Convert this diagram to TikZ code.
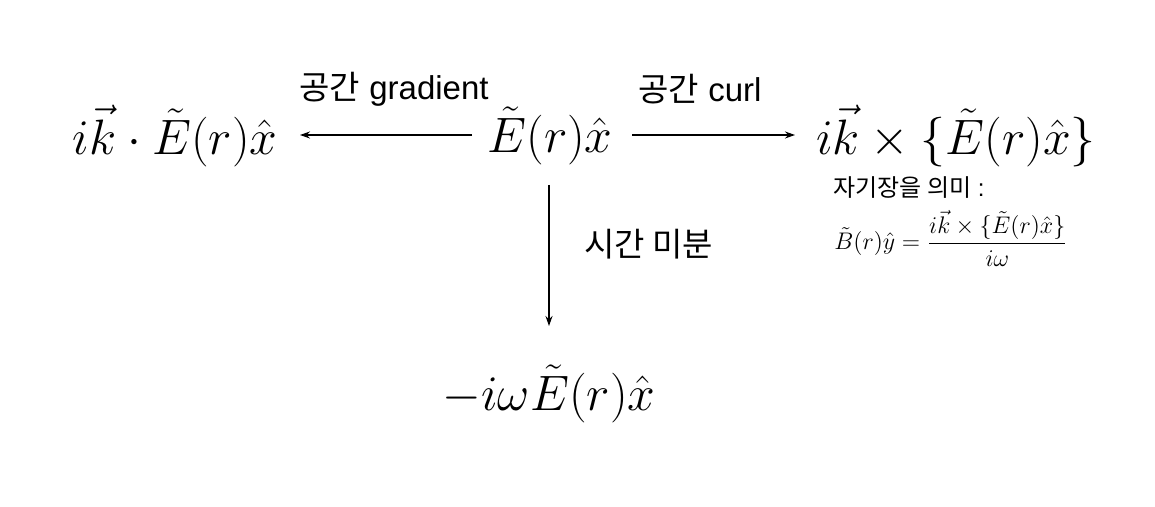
\documentclass[tikz,border=0pt]{standalone}
\usepackage{amsmath}
\usepackage{fontspec}
\setmainfont{Liberation Sans}
\newfontfamily\kr{Noto Sans CJK KR}
\usetikzlibrary{arrows.meta}
\begin{document}
\begin{tikzpicture}[x=0.5pt,y=-0.5pt,
  bigmath/.style={inner sep=0pt, font=\fontsize{23}{27}\selectfont},
  lbl/.style={inner sep=0pt, font=\fontsize{16.5}{20}\selectfont},
  note/.style={inner sep=0pt, font=\fontsize{12}{14}\selectfont},
  arr/.style={line width=0.6pt, -{Stealth[length=5pt,width=3.5pt]}}]
\useasboundingbox (0,0) rectangle (1155,507);
\node[bigmath] (c) at (550,136) {$\tilde{E}(r)\hat{x}$};
\node[bigmath] (l) at (175,136) {$i\vec{k}\cdot\tilde{E}(r)\hat{x}$};
\node[bigmath] (r) at (956,136) {$i\vec{k}\times\{\tilde{E}(r)\hat{x}\}$};
\node[bigmath] (b) at (549,394) {$-i\omega\tilde{E}(r)\hat{x}$};
\coordinate (lA) at (472,135);
\coordinate (lB) at (300,135);
\coordinate (rA) at (632,135);
\coordinate (rB) at (795,135);
\coordinate (dA) at (549,185);
\coordinate (dB) at (549,326);
\draw[arr] (lA) -- (lB);
\draw[arr] (rA) -- (rB);
\draw[arr] (dA) -- (dB);
\node[lbl] (gl) at (394,89) {{\kr 공간} gradient};
\node[lbl] (cl) at (700,89) {{\kr 공간} curl};
\node[lbl, anchor=west] (tl) at (584,244) {\kr 시간 미분};
\node[note, anchor=west] (nt) at (833,188) {{\kr 자기장을 의미} :};
\node[inner sep=0pt, font=\fontsize{11.5}{13}\selectfont] (bf) at (951,238)
  {$\tilde{B}(r)\hat{y}=\dfrac{i\vec{k}\times\{\tilde{E}(r)\hat{x}\}}{i\omega}$};
\end{tikzpicture}
\end{document}
